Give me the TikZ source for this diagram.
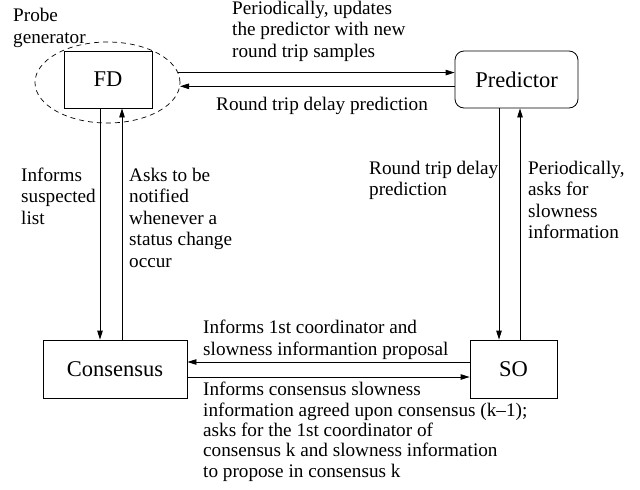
\documentclass[tikz,border=0pt]{standalone}
\usepackage{fontspec}
\setmainfont{Liberation Serif}
\usetikzlibrary{shapes.geometric,arrows.meta,calc}
\begin{document}
\begin{tikzpicture}[x=1pt,y=-1pt,
  lbl/.style={anchor=base west,align=left,inner sep=0pt,font=\fontsize{19.2}{21.5}\selectfont},
  box/.style={draw,line width=0.8pt,inner sep=0pt,font=\fontsize{22.5}{26}\selectfont},
  arr/.style={-{Triangle[length=9pt,width=5.5pt]},line width=0.8pt}]
\useasboundingbox (0,0) rectangle (640,490);
% nodes
\node[box,minimum width=88pt,minimum height=57pt] (fd) at (108,79.5) {FD};
\node[draw,dashed,dash pattern=on 5pt off 4pt,line width=0.7pt,ellipse,inner sep=0pt,minimum width=145pt,minimum height=81pt] (pg) at (107.5,82.5) {};
\node[box,rounded corners=9pt,minimum width=123pt,minimum height=57pt] (pred) at (516.5,79.5) {Predictor};
\node[box,minimum width=144pt,minimum height=58pt] (cons) at (115,369) {Consensus};
\node[box,minimum width=87pt,minimum height=58pt] (so) at (513.5,369) {SO};
% helper coordinates
\coordinate (xa) at (100,0);
\coordinate (xb) at (122,0);
\coordinate (xc) at (499,0);
\coordinate (xd) at (520,0);
\coordinate (yc) at (0,362);
\coordinate (yd) at (0,377);
% connectors
\draw[arr] (pg.8.53) -- (pred.west |- pg.8.53);
\draw[arr] (pred.west |- pg.-3.57) -- (pg.-3.57);
\draw[arr] (xa |- fd.south) -- (xa |- cons.north);
\draw[arr] (xb |- cons.north) -- (xb |- fd.south);
\draw[arr] (xc |- pred.south) -- (xc |- so.north);
\draw[arr] (xd |- so.north) -- (xd |- pred.south);
\draw[arr] (so.west |- yc) -- (cons.east |- yc);
\draw[arr] (cons.east |- yd) -- (so.west |- yd);
% labels (anchored at the baseline of the last line)
\node[lbl] (t1) at (13,43) {Probe\\generator};
\node[lbl] (t2) at (232,57) {Periodically, updates\\the predictor with new\\round trip samples};
\node[lbl] (t3) at (216,110) {Round trip delay prediction};
\node[lbl] (t4) at (21,224) {Informs\\suspected\\list};
\node[lbl] (t5) at (129,267) {Asks to be\\notified\\whenever a\\status change\\occur};
\node[lbl] (t6) at (369,195.5) {Round trip delay\\prediction};
\node[lbl] (t7) at (528,238.5) {Periodically,\\asks for\\slowness\\information};
\node[lbl] (t8) at (203,355) {Informs 1st coordinator and\\slowness informantion proposal};
\node[lbl,font=\fontsize{19.2}{20.3}\selectfont] (t9) at (203,477) {Informs consensus slowness\\information agreed upon consensus (k--1);\\asks for the 1st coordinator of\\consensus k and slowness information\\to propose in consensus k};
\end{tikzpicture}
\end{document}
